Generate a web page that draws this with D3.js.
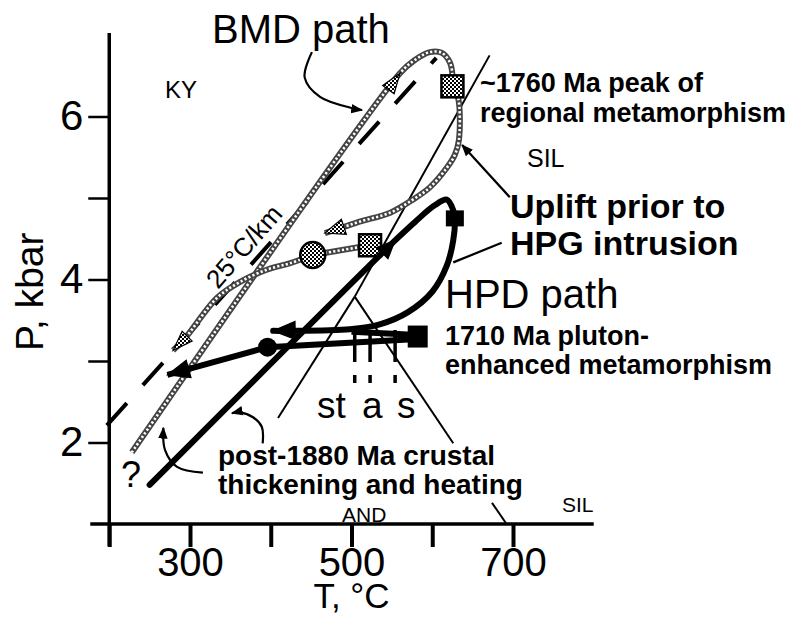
<!DOCTYPE html>
<html>
<head>
<meta charset="utf-8">
<script src="https://cdn.jsdelivr.net/npm/d3@7"></script>
<style>
body { margin: 0; background: #fff; }
svg { font-family: "Liberation Sans", Arial, Helvetica, sans-serif; }
</style>
</head>
<body>
<div id="chart"></div>
<script>
// axis values
var tempTicks = [200, 300, 400, 500, 600, 700];
var tempLabels = [300, 500, 700];
var presTicks = [2, 3, 4, 5, 6];
var presLabels = [2, 4, 6];

// [T °C, P kbar]
var geotherm = [[197, 2.21], [605, 6.72]];
var bmdPrograde = [[228, 1.88], [560, 6.53], [578, 6.69], [597, 6.79], [612, 6.78], [622, 6.66], [625, 6.51], [625, 6.37]];
var bmdUplift = [[625, 6.37], [632, 6.23], [633, 5.71], [628, 5.53], [618, 5.37], [597, 5.13], [576, 4.98], [548, 4.82], [510, 4.71], [486, 4.63], [467, 4.57]];
var bmdLink = [[523, 4.42], [452, 4.30]];
var bmdCooling = [[452, 4.30], [424, 4.20], [395, 4.12], [362, 3.97], [333, 3.77], [294, 3.28], [279, 3.13]];
var bmdSquares = [[625, 6.37], [523, 4.42]];
var bmdEllipse = [[452, 4.30]];

var hpdMain = [[250, 1.48], [554, 4.48], [579, 4.71], [603, 4.91], [618, 4.98], [626, 4.85], [628, 4.75], [626, 4.48], [618, 4.17], [600, 3.85], [570, 3.60], [535, 3.45], [498, 3.39], [420, 3.37], [403, 3.37]];
var hpdIsobar = [[582, 3.32], [500, 3.36]];
var hpdLower = [[582, 3.27], [396, 3.17], [272, 2.83]];
var hpdSquares = [[628, 4.75], [582, 3.30]];
var hpdCircle = [[396, 3.17]];

var kySil = [[504, 3.79], [671, 6.75]];
var kyAnd = [[504, 3.79], [409, 2.30]];
var andSil = [[504, 3.79], [626, 1.99]];
var andSilLow = [[674, 1.26], [692, 1.0]];
var isograds = [504, 523, 554];
var isogradRange = [3.38, 2.73];

var bmdLabelArrow = [[451, 6.79], [442, 6.48], [461, 6.24], [502, 6.10], [513, 6.08]];
var upliftArrow = [[696, 5.01], [637, 5.65]];
var hpgLine = [[686, 4.45], [626, 4.21]];
var postArrowA = [[390, 1.99], [389, 2.19], [378, 2.31], [362, 2.37], [352, 2.36]];
var postArrowB = [[316, 1.63], [284, 1.70], [269, 1.91], [267, 2.18]];

var width = 792, height = 618;

var svg = d3.select("#chart").append("svg")
    .attr("width", width)
    .attr("height", height);

var x = d3.scaleLinear().domain([200, 800]).range([109.25, 593.75]);
var y = d3.scaleLinear().domain([1, 7]).range([524, 35]);

var line = d3.line().x(function(d) { return x(d[0]); }).y(function(d) { return y(d[1]); });
var smooth = d3.line().x(function(d) { return x(d[0]); }).y(function(d) { return y(d[1]); })
    .curve(d3.curveCatmullRom.alpha(0.5));

var defs = svg.append("defs");
var pat = defs.append("pattern").attr("id", "check")
    .attr("width", 4).attr("height", 4).attr("patternUnits", "userSpaceOnUse");
pat.append("rect").attr("width", 4).attr("height", 4).attr("fill", "#fff");
pat.append("rect").attr("width", 2).attr("height", 2).attr("fill", "#000");
pat.append("rect").attr("x", 2).attr("y", 2).attr("width", 2).attr("height", 2).attr("fill", "#000");

defs.append("marker")
    .attr("id", "head")
    .attr("viewBox", "0 -5 10 10")
    .attr("refX", 9)
    .attr("refY", 0)
    .attr("orient", "auto")
    .attr("markerUnits", "userSpaceOnUse")
    .attr("markerWidth", 12)
    .attr("markerHeight", 12)
    .append("path")
    .attr("d", "M0,-4L10,0L0,4Z")
    .attr("fill", "#000");

// axes
var xAxis = svg.append("g")
    .attr("transform", "translate(0," + y(1) + ")")
    .call(d3.axisBottom(x).tickValues(tempTicks).tickSize(23).tickSizeOuter(0).tickPadding(1)
        .tickFormat(function(d) { return tempLabels.indexOf(d) >= 0 ? d : ""; }));
xAxis.select(".domain").remove();
xAxis.selectAll(".tick line").attr("stroke", "#000").attr("stroke-width", 4);
xAxis.selectAll(".tick text").attr("font-size", 40).attr("font-family", "Liberation Sans, Arial").attr("fill", "#000");

var yAxis = svg.append("g")
    .attr("transform", "translate(" + x(200) + ",0)")
    .call(d3.axisLeft(y).tickValues(presTicks).tickSize(21).tickSizeOuter(0).tickPadding(5)
        .tickFormat(function(d) { return presLabels.indexOf(d) >= 0 ? d : ""; }));
yAxis.select(".domain").remove();
yAxis.selectAll(".tick line").attr("stroke", "#000").attr("stroke-width", 2.5);
yAxis.selectAll(".tick text").attr("font-size", 42).attr("font-family", "Liberation Sans, Arial").attr("fill", "#000");

svg.append("line")
    .attr("x1", x(200) - 19).attr("x2", x(800))
    .attr("y1", y(1)).attr("y2", y(1))
    .attr("stroke", "#000").attr("stroke-width", 3.5);
svg.append("line")
    .attr("x1", x(200)).attr("x2", x(200))
    .attr("y1", y(7) - 2).attr("y2", y(1) + 22)
    .attr("stroke", "#000").attr("stroke-width", 3.5);

svg.append("text").attr("x", x(500)).attr("y", 608)
    .attr("text-anchor", "middle").attr("font-size", 35).text("T, °C");
svg.append("text")
    .attr("transform", "translate(43," + y(3.85) + ") rotate(-90)")
    .attr("text-anchor", "middle").attr("font-size", 39).text("P, kbar");

// Al2SiO5 phase boundaries
var phase = svg.append("g").attr("fill", "none").attr("stroke", "#000").attr("stroke-width", 2);
[kySil, kyAnd, andSil, andSilLow].forEach(function(seg) {
    phase.append("path").attr("d", line(seg));
});

// isograd markers
svg.append("g").selectAll("line")
    .data(isograds)
    .enter().append("line")
    .attr("x1", function(d) { return x(d); })
    .attr("x2", function(d) { return x(d); })
    .attr("y1", y(isogradRange[0]))
    .attr("y2", y(isogradRange[1]))
    .attr("stroke", "#000")
    .attr("stroke-width", 3.5)
    .attr("stroke-dasharray", "32,13,8,100");

// 25 C/km geotherm
svg.append("path").attr("d", line(geotherm))
    .attr("fill", "none").attr("stroke", "#000").attr("stroke-width", 4)
    .attr("stroke-dasharray", "30,24");

// BMD path, beaded grey line
function chain(data, curved) {
    var gen = curved ? smooth : line;
    svg.append("path").attr("d", gen(data))
        .attr("fill", "none").attr("stroke", "#444").attr("stroke-width", 6);
    svg.append("path").attr("d", gen(data))
        .attr("fill", "none").attr("stroke", "#fff").attr("stroke-width", 2.6)
        .attr("stroke-dasharray", "2.2,2.2");
}
chain(bmdPrograde, true);
chain(bmdUplift, true);
chain(bmdLink, false);
chain(bmdCooling, true);

function arrowHead(tip, from, len, half, fill) {
    var tx = x(tip[0]), ty = y(tip[1]);
    var a = Math.atan2(ty - y(from[1]), tx - x(from[0]));
    var bx = tx - len * Math.cos(a), by = ty - len * Math.sin(a);
    var px = -Math.sin(a) * half, py = Math.cos(a) * half;
    svg.append("path")
        .attr("d", "M" + tx + "," + ty + "L" + (bx + px) + "," + (by + py) + "L" + (bx - px) + "," + (by - py) + "Z")
        .attr("fill", fill).attr("stroke", "#000").attr("stroke-width", 1.2);
}
arrowHead(bmdPrograde[1], bmdPrograde[0], 20, 7, "url(#check)");
arrowHead(bmdUplift[bmdUplift.length - 1], bmdUplift[bmdUplift.length - 3], 20, 8, "url(#check)");
arrowHead(bmdCooling[bmdCooling.length - 1], bmdCooling[bmdCooling.length - 2], 20, 7, "url(#check)");

svg.append("g").selectAll("rect")
    .data(bmdSquares)
    .enter().append("rect")
    .attr("x", function(d) { return x(d[0]) - 11; })
    .attr("y", function(d) { return y(d[1]) - 11; })
    .attr("width", 22).attr("height", 22)
    .attr("fill", "url(#check)").attr("stroke", "#000").attr("stroke-width", 2.5);
svg.append("g").selectAll("ellipse")
    .data(bmdEllipse)
    .enter().append("ellipse")
    .attr("cx", function(d) { return x(d[0]); })
    .attr("cy", function(d) { return y(d[1]); })
    .attr("rx", 12.5).attr("ry", 13)
    .attr("fill", "url(#check)").attr("stroke", "#000").attr("stroke-width", 2.5);

// HPD path, heavy black line
svg.append("path").attr("d", smooth(hpdMain))
    .attr("fill", "none").attr("stroke", "#000").attr("stroke-width", 6).attr("stroke-linecap", "round");
svg.append("path").attr("d", line(hpdIsobar))
    .attr("fill", "none").attr("stroke", "#000").attr("stroke-width", 6);
svg.append("path").attr("d", line(hpdLower))
    .attr("fill", "none").attr("stroke", "#000").attr("stroke-width", 6);
arrowHead(hpdMain[hpdMain.length - 1], hpdMain[hpdMain.length - 3], 22, 9, "#000");
arrowHead(hpdLower[2], hpdLower[1], 22, 9, "#000");
arrowHead(hpdMain[1], hpdMain[0], 18, 8, "#000");

svg.append("g").selectAll("rect")
    .data(hpdSquares)
    .enter().append("rect")
    .attr("x", function(d, i) { return x(d[0]) - (i ? 10 : 9); })
    .attr("y", function(d, i) { return y(d[1]) - (i ? 11 : 8); })
    .attr("width", function(d, i) { return i ? 20 : 18; })
    .attr("height", function(d, i) { return i ? 22 : 16; })
    .attr("fill", "#000");
svg.append("g").selectAll("circle")
    .data(hpdCircle)
    .enter().append("circle")
    .attr("cx", function(d) { return x(d[0]); })
    .attr("cy", function(d) { return y(d[1]); })
    .attr("r", 9.5).attr("fill", "#000");

// annotation leaders
var lead = svg.append("g").attr("fill", "none").attr("stroke", "#000").attr("stroke-width", 2.2);
lead.append("path").attr("d", smooth(bmdLabelArrow)).attr("marker-end", "url(#head)");
lead.append("path").attr("d", line(upliftArrow)).attr("marker-end", "url(#head)");
lead.append("path").attr("d", line(hpgLine));
lead.append("path").attr("d", smooth(postArrowA)).attr("marker-end", "url(#head)");
lead.append("path").attr("d", smooth(postArrowB)).attr("marker-end", "url(#head)");

// labels
function label(txt, px, py, size, weight) {
    svg.append("text").attr("x", px).attr("y", py)
        .attr("font-size", size).attr("font-weight", weight || "normal").text(txt);
}
label("BMD path", 212, 43, 40);
label("KY", 165, 98, 24);
label("~1760 Ma peak of", 480, 92, 27, "bold");
label("regional metamorphism", 480, 122, 27, "bold");
label("SIL", 527, 167, 25);
label("Uplift prior to", 510, 218, 34, "bold");
label("HPG intrusion", 510, 255, 34, "bold");
label("HPD path", 445, 308, 40);
label("1710 Ma pluton-", 445, 345, 27, "bold");
label("enhanced metamorphism", 445, 374, 27, "bold");
label("st", 317, 418, 37);
label("a", 362, 418, 37);
label("s", 397, 418, 37);
label("post-1880 Ma crustal", 218, 465, 28, "bold");
label("thickening and heating", 218, 494, 28, "bold");
label("AND", 342, 522, 21);
label("SIL", 562, 512, 21);
label("?", 121, 487, 36);

svg.append("text")
    .attr("transform", "translate(218,290) rotate(-49)")
    .attr("font-size", 26).text("25°C/km");
</script>
</body>
</html>
